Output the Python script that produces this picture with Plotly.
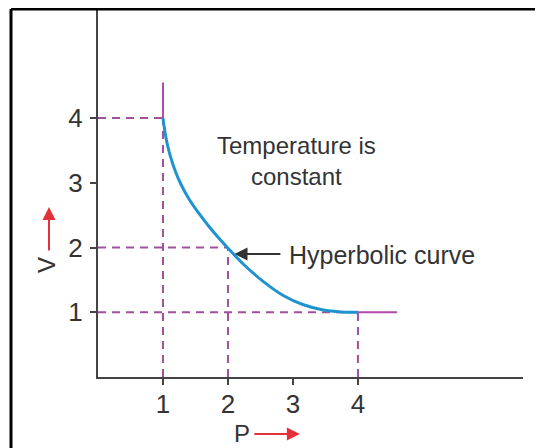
import plotly.graph_objects as go

# ---- data ----
curve_P = [1.00, 1.03, 1.07, 1.12, 1.19, 1.28, 1.40, 1.55, 1.72, 1.90, 2.00, 2.25, 2.55, 2.85, 3.15, 3.45, 3.75, 4.00]
curve_V = [4.00, 3.79, 3.58, 3.39, 3.18, 2.97, 2.75, 2.53, 2.31, 2.10, 1.99, 1.73, 1.47, 1.26, 1.12, 1.04, 1.005, 1.00]

mark_P = [1, 2, 4]          # marked states
mark_V = [4, 2, 1]
ext_V_top = 4.55            # solid extension above (1, 4)
ext_P_right = 4.6           # solid extension right of (4, 1)

x_ticks = [1, 2, 3, 4]
y_ticks = [1, 2, 3, 4]
x_max = 6.54
y_max = 5.67

label_temp = "Temperature is<br>constant"
label_curve = "Hyperbolic curve"
temp_pos = (3.05, 3.33)
arrow_tip = (2.10, 1.90)
arrow_tail = (2.83, 1.90)
curve_label_pos = (2.91, 1.88)

FONT = "Liberation Sans, Arial, sans-serif"
PURPLE = "#a2509e"
PURPLE_SOLID = "#b04aad"
BLUE = "#1f93cf"
RED = "#e3303a"
TXT = "#333333"

fig = go.Figure()

# dashed guide lines
for p, v in zip(mark_P, mark_V):
    fig.add_trace(go.Scatter(x=[0, p], y=[v, v], mode="lines",
                             line=dict(color=PURPLE, width=2, dash="8px,6px"),
                             hoverinfo="skip", showlegend=False))
    fig.add_trace(go.Scatter(x=[p, p], y=[0, v], mode="lines",
                             line=dict(color=PURPLE, width=2, dash="8px,6px"),
                             hoverinfo="skip", showlegend=False))

# solid extensions
fig.add_trace(go.Scatter(x=[mark_P[0], mark_P[0]], y=[mark_V[0], ext_V_top], mode="lines",
                         line=dict(color=PURPLE_SOLID, width=2), showlegend=False, hoverinfo="skip"))
fig.add_trace(go.Scatter(x=[mark_P[-1], ext_P_right], y=[mark_V[-1], mark_V[-1]], mode="lines",
                         line=dict(color=PURPLE_SOLID, width=2), showlegend=False, hoverinfo="skip"))

# hyperbolic curve
fig.add_trace(go.Scatter(x=curve_P, y=curve_V, mode="lines",
                         line=dict(color=BLUE, width=3, shape="spline", smoothing=1.0),
                         showlegend=False, hoverinfo="skip"))

annotations = [
    dict(x=temp_pos[0], y=temp_pos[1], xref="x", yref="y", text=label_temp,
         showarrow=False, xanchor="center", yanchor="middle", align="center",
         font=dict(family=FONT, size=24, color=TXT)),
    dict(x=arrow_tip[0], y=arrow_tip[1], xref="x", yref="y", ax=arrow_tail[0], ay=arrow_tail[1],
         axref="x", ayref="y", text="", showarrow=True, arrowhead=2, arrowsize=1.3,
         arrowwidth=2, arrowcolor="#333333"),
    dict(x=curve_label_pos[0], y=curve_label_pos[1], xref="x", yref="y", text=label_curve,
         showarrow=False, xanchor="left", yanchor="middle",
         font=dict(family=FONT, size=25, color=TXT)),
    # axis titles with red arrows
    dict(x=-0.1224, y=0.305, xref="paper", yref="paper", text="V", textangle=-90,
         showarrow=False, xanchor="center", yanchor="middle",
         font=dict(family=FONT, size=24, color=TXT)),
    dict(x=-0.1153, y=0.463, xref="paper", yref="paper", ax=0, ay=45, text="",
         showarrow=True, arrowhead=2, arrowsize=1.3, arrowwidth=2, arrowcolor=RED),
    dict(x=0.339, y=-0.1526, xref="paper", yref="paper", text="P",
         showarrow=False, xanchor="center", yanchor="middle",
         font=dict(family=FONT, size=24, color=TXT)),
    dict(x=0.475, y=-0.155, xref="paper", yref="paper", ax=-47, ay=0, text="",
         showarrow=True, arrowhead=2, arrowsize=1.3, arrowwidth=2, arrowcolor=RED),
]

# outer frame (cropped border)
shapes = [
    dict(type="line", xref="paper", yref="paper", x0=-0.2047, x1=-0.2047, y0=1.0027, y1=-0.25,
         line=dict(color="black", width=3)),
    dict(type="line", xref="paper", yref="paper", x0=-0.2047, x1=1.1, y0=1.0027, y1=1.0027,
         line=dict(color="black", width=3)),
]

# the page body has an 8px margin, so margins are shifted by 8px
fig.update_layout(
    width=543, height=448,
    margin=dict(l=90, r=28, t=2, b=79),
    paper_bgcolor="white", plot_bgcolor="white",
    annotations=annotations, shapes=shapes,
    font=dict(family=FONT, color=TXT),
    xaxis=dict(range=[0, x_max], tickvals=x_ticks, ticktext=[str(t) for t in x_ticks],
               showgrid=False, zeroline=False, showline=True, linecolor="#444444", linewidth=2,
               ticks="outside", ticklen=6, tickwidth=2, tickcolor="#444444",
               tickfont=dict(family=FONT, size=26, color=TXT), ticklabelstandoff=-3,
               fixedrange=True, automargin=False),
    yaxis=dict(range=[0, y_max], tickvals=y_ticks, ticktext=[str(t) for t in y_ticks],
               showgrid=False, zeroline=False, showline=True, linecolor="#444444", linewidth=2,
               ticks="outside", ticklen=6, tickwidth=2, tickcolor="#444444",
               tickfont=dict(family=FONT, size=26, color=TXT), ticklabelstandoff=2,
               fixedrange=True, automargin=False),
)

fig.write_html("out.html")
